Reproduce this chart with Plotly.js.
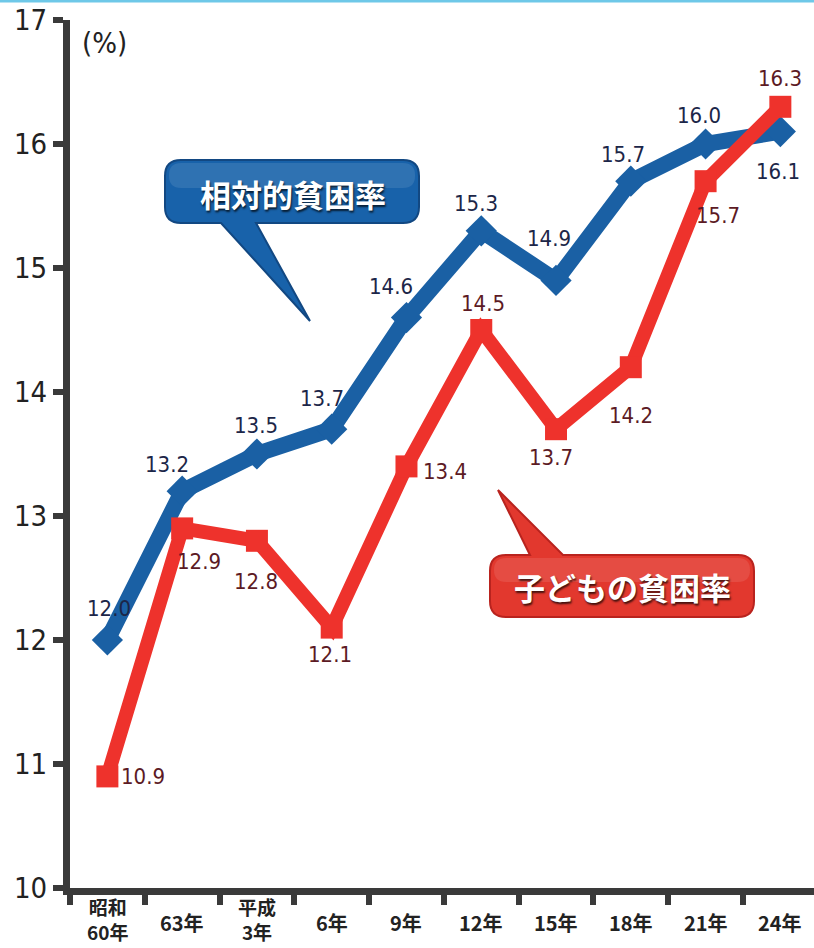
<!DOCTYPE html>
<html>
<head>
<meta charset="utf-8">
<script src="https://cdn.plot.ly/plotly-3.0.1.min.js"></script>
<style>
html,body{margin:0;padding:0;background:#fff;}
#chart{width:814px;height:948px;}
</style>
</head>
<body>
<div id="chart"></div>
<script>
// ---- data ----
const categories = ["昭和60年", "63年", "平成3年", "6年", "9年", "12年", "15年", "18年", "21年", "24年"];
const tickLabels = ["昭和<br>60年", "63年", "平成<br>3年", "6年", "9年", "12年", "15年", "18年", "21年", "24年"];
const relativePoverty = [12.0, 13.2, 13.5, 13.7, 14.6, 15.3, 14.9, 15.7, 16.0, 16.1];
const childPoverty = [10.9, 12.9, 12.8, 12.1, 13.4, 14.5, 13.7, 14.2, 15.7, 16.3];
const seriesNames = ["相対的貧困率", "子どもの貧困率"];
const yTicks = [10, 11, 12, 13, 14, 15, 16, 17];

// ---- styling / label placement (pixel offsets) ----
const blueShift = [[2,32],[-15,27],[-1,29],[-10,31],[-15,31],[-5,27],[-7,42],[-8,27],[-7,29],[-2,-40]];
const redShift  = [[36,0],[17,-33],[-1,-41],[-2,-27],[39,-5],[2,27],[-5,-28],[0,-48],[12,-34],[0,28]];

const BLUE = "rgb(26,96,164)";
const RED = "rgb(238,50,44)";
const BLUE_TXT = "rgb(28,38,72)";
const RED_TXT = "rgb(92,26,36)";
const NARROW = "Liberation Sans Narrow, DejaVu Sans Condensed, Arial Narrow, Noto Sans CJK JP, sans-serif";
const BOLDJP = "Liberation Sans Narrow, Noto Sans CJK JP, sans-serif";

const L = 70, R = 0, T = 20, B = 60, WIDTH = 814, HEIGHT = 948;
const PW = WIDTH - L - R, PH = HEIGHT - T - B;
function px(x){ return (x - L) / PW; }
function py(y){ return (T + PH - y) / PH; }
function P(x, y){ return px(x).toFixed(5) + "," + py(y).toFixed(5); }

function bubblePath(x0, y0, x1, y1, r, tail, tailSide){
  let s = "M" + P(x0 + r, y0);
  if (tailSide === "top") { s += " L" + P(tail[0][0], tail[0][1]) + " L" + P(tail[1][0], tail[1][1]) + " L" + P(tail[2][0], tail[2][1]); }
  s += " L" + P(x1 - r, y0) + " Q" + P(x1, y0) + " " + P(x1, y0 + r);
  s += " L" + P(x1, y1 - r) + " Q" + P(x1, y1) + " " + P(x1 - r, y1);
  if (tailSide === "bottom") { s += " L" + P(tail[0][0], tail[0][1]) + " L" + P(tail[1][0], tail[1][1]) + " L" + P(tail[2][0], tail[2][1]); }
  s += " L" + P(x0 + r, y1) + " Q" + P(x0, y1) + " " + P(x0, y1 - r);
  s += " L" + P(x0, y0 + r) + " Q" + P(x0, y0) + " " + P(x0 + r, y0) + " Z";
  return s;
}
function roundRect(x0, y0, x1, y1, r){ return bubblePath(x0, y0, x1, y1, r, null, null); }

const traces = [
  {
    x: categories, y: relativePoverty, name: seriesNames[0], type: "scatter", mode: "lines+markers",
    line: {color: BLUE, width: 16},
    marker: {symbol: "diamond", size: 24, color: BLUE},
    hoverinfo: "x+y"
  },
  {
    x: categories, y: childPoverty, name: seriesNames[1], type: "scatter", mode: "lines+markers",
    line: {color: RED, width: 14},
    marker: {symbol: "square", size: 22, color: RED},
    hoverinfo: "x+y"
  }
];

const annotations = [];
relativePoverty.forEach((v, i) => {
  annotations.push({x: categories[i], y: v, xref: "x", yref: "y", text: v.toFixed(1), showarrow: false,
    xanchor: "center", yanchor: "middle",
    xshift: blueShift[i][0], yshift: blueShift[i][1],
    font: {family: NARROW, size: 22, color: BLUE_TXT}});
});
childPoverty.forEach((v, i) => {
  annotations.push({x: categories[i], y: v, xref: "x", yref: "y", text: v.toFixed(1), showarrow: false,
    xanchor: "center", yanchor: "middle",
    xshift: redShift[i][0], yshift: redShift[i][1],
    font: {family: NARROW, size: 22, color: RED_TXT}});
});
// x tick labels
tickLabels.forEach((t, i) => {
  const multi = t.indexOf("<br>") >= 0;
  annotations.push({x: categories[i], y: py(multi ? 919 : 922), xref: "x", yref: "paper", text: t, showarrow: false,
    xanchor: "center", yanchor: "middle",
    font: {family: BOLDJP, size: multi ? 19 : 20, color: "#222", weight: "bold"}});
});
// unit
annotations.push({x: px(104), y: py(43), xref: "paper", yref: "paper", text: "(%)", showarrow: false,
  xanchor: "center", yanchor: "middle",
  font: {family: NARROW, size: 29, color: "#222"}});
// callout texts
annotations.push({x: px(293), y: py(193), xref: "paper", yref: "paper", text: "<b>" + seriesNames[0] + "</b>", showarrow: false,
  xanchor: "center", yanchor: "middle",
  font: {family: "Noto Sans CJK JP, sans-serif", size: 31, color: "#fff", shadow: "1px 2px 2px rgba(0,0,0,0.7)"}});
annotations.push({x: px(622), y: py(586), xref: "paper", yref: "paper", text: "<b>" + seriesNames[1] + "</b>", showarrow: false,
  xanchor: "center", yanchor: "middle",
  font: {family: "Noto Sans CJK JP, sans-serif", size: 31, color: "#fff", shadow: "1px 2px 2px rgba(0,0,0,0.7)"}});

const shapes = [
  // blue bubble
  {type: "path", xref: "paper", yref: "paper", layer: "above",
   path: bubblePath(165, 160, 419, 223, 16, [[256,223],[310,321],[221,223]], "bottom"),
   fillcolor: "rgb(24,98,170)", line: {color: "rgb(18,72,130)", width: 2}},
  {type: "path", xref: "paper", yref: "paper", layer: "above",
   path: roundRect(169, 163, 415, 188, 12),
   fillcolor: "rgba(255,255,255,0.10)", line: {width: 0}},
  // red bubble
  {type: "path", xref: "paper", yref: "paper", layer: "above",
   path: bubblePath(490, 555, 754, 617, 16, [[530,555],[498,490],[563,555]], "top"),
   fillcolor: "rgb(226,56,46)", line: {color: "rgb(185,35,30)", width: 2}},
  {type: "path", xref: "paper", yref: "paper", layer: "above",
   path: roundRect(494, 558, 750, 582, 12),
   fillcolor: "rgba(255,255,255,0.10)", line: {width: 0}},
  // top cyan border
  {type: "line", xref: "paper", yref: "paper", x0: px(0), x1: px(814), y0: py(1), y1: py(1),
   line: {color: "rgb(110,200,232)", width: 3}}
];

const layout = {
  width: WIDTH, height: HEIGHT,
  margin: {l: L, r: R, t: T, b: B, pad: 0},
  paper_bgcolor: "#fff", plot_bgcolor: "#fff",
  showlegend: false,
  xaxis: {
    type: "category", range: [-0.5, 9.45], fixedrange: true,
    showgrid: false, zeroline: false,
    showline: true, linecolor: "#3a3a3a", linewidth: 7,
    ticks: "outside", tickson: "boundaries", ticklen: 10, tickwidth: 6, tickcolor: "#3a3a3a",
    showticklabels: false
  },
  yaxis: {
    range: [10, 17], tickvals: yTicks, ticktext: yTicks.map(String), fixedrange: true,
    showgrid: false, zeroline: false,
    showline: true, linecolor: "#3a3a3a", linewidth: 7,
    ticks: "outside", ticklen: 10, tickwidth: 6, tickcolor: "#3a3a3a",
    tickfont: {family: NARROW, size: 29, color: "#222"}
  },
  annotations: annotations,
  shapes: shapes
};

Plotly.newPlot("chart", traces, layout, {displayModeBar: false, staticPlot: true});
</script>
</body>
</html>
